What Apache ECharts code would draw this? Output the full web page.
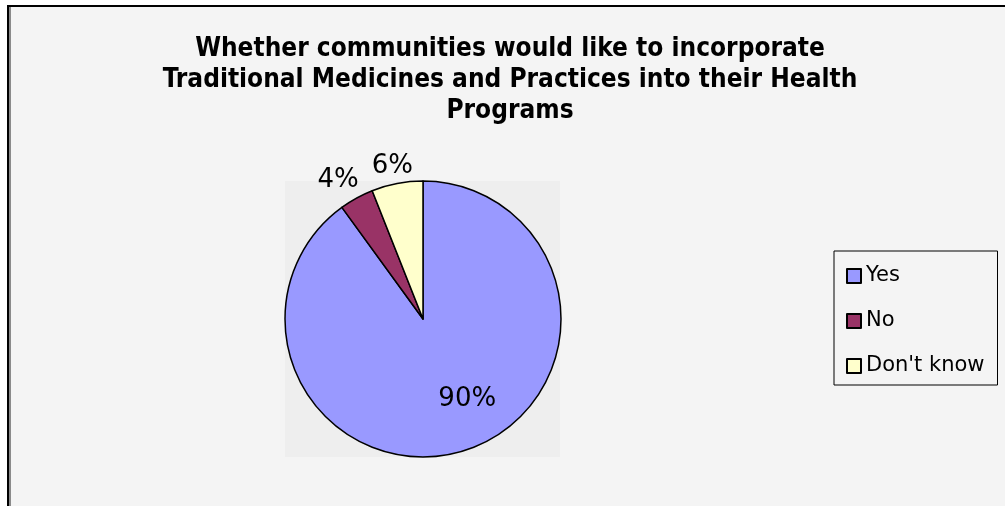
<!DOCTYPE html>
<html>
<head>
<meta charset="utf-8">
<style>
html,body{margin:0;padding:0;background:#fff;}
#chart{width:1005px;height:506px;}
</style>
<script src="https://cdn.jsdelivr.net/npm/echarts@6/dist/echarts.min.js"></script>
</head>
<body>
<div id="chart"></div>
<script>
const categories = ['Yes', 'No', "Don't know"];
const values = [90, 4, 6];
const colors = ['#9999ff', '#993366', '#ffffcc'];
const titleText = 'Whether communities would like to incorporate\nTraditional Medicines and Practices into their Health\nPrograms';

const labelShift = [[22, 12], [13, -7], [23, -5]];

const chart = echarts.init(document.getElementById('chart'));
chart.setOption({
  backgroundColor: '#ffffff',
  animation: false,
  graphic: [
    { type: 'rect', z: -10, shape: { x: 7, y: 5, width: 1000, height: 510 }, style: { fill: '#000000' } },
    { type: 'rect', z: -9, shape: { x: 9, y: 7, width: 1000, height: 510 }, style: { fill: '#8a8a8a' } },
    { type: 'rect', z: -8, shape: { x: 11, y: 7, width: 1000, height: 510 }, style: { fill: '#f4f4f4' } },
    { type: 'rect', z: -7, shape: { x: 285, y: 181, width: 275, height: 276 }, style: { fill: '#eeeeee' } }
  ],
  title: {
    text: titleText,
    left: 505,
    top: 29,
    textAlign: 'center',
    textStyle: {
      fontFamily: 'DejaVu Sans Condensed',
      fontWeight: 'bold',
      fontSize: 26,
      lineHeight: 31,
      color: '#000'
    }
  },
  legend: {
    orient: 'vertical',
    left: 834,
    top: 251,
    padding: [12, 13, 6, 12],
    itemGap: 19,
    itemWidth: 14,
    itemHeight: 14,
    icon: 'rect',
    borderColor: '#000',
    borderWidth: 1,
    data: categories,
    itemStyle: { borderColor: '#000', borderWidth: 2 },
    textStyle: { fontFamily: 'DejaVu Sans', fontSize: 21, color: '#000', lineHeight: 26 }
  },
  series: [{
    type: 'pie',
    center: [423, 319],
    radius: 138,
    startAngle: 90,
    clockwise: true,
    avoidLabelOverlap: false,
    color: colors,
    itemStyle: { borderColor: '#000', borderWidth: 1.5 },
    label: {
      show: true,
      formatter: '{d}%',
      fontFamily: 'DejaVu Sans',
      fontSize: 26,
      color: '#000'
    },
    labelLine: { show: false, length: 12, length2: 0 },
    emphasis: { disabled: true },
    data: categories.map((c, i) => ({
      name: c,
      value: values[i],
      label: { position: i === 0 ? 'inside' : 'outside' }
    })),
    labelLayout: function (p) {
      const s = labelShift[p.dataIndex];
      return { dx: s[0], dy: s[1] };
    }
  }]
});
</script>
</body>
</html>
